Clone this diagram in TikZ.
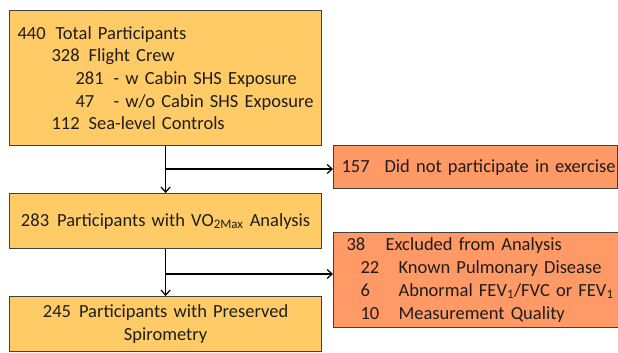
\documentclass[tikz,border=0pt]{standalone}
\usepackage{fontspec}
\setmainfont{Carlito}
\usetikzlibrary{arrows.meta}
\definecolor{yfill}{HTML}{FFCB66}
\definecolor{ofill}{HTML}{FF9966}
\definecolor{bordc}{HTML}{404040}
\definecolor{txtc}{HTML}{1E1E1E}
\newcommand{\boxfont}{\fontsize{18.5pt}{22.7pt}\selectfont}
\newcommand{\nm}[2]{\makebox[#1][l]{#2}}
\begin{document}
\begin{tikzpicture}[x=1pt,y=-1pt,
  boxbase/.style={draw=bordc, line width=1.2pt, inner ysep=0pt, anchor=north west,
    font=\boxfont, text=txtc},
  ybox/.style={boxbase, fill=yfill},
  obox/.style={boxbase, fill=ofill},
  arr/.style={draw=black, line width=1.2pt, -{Straight Barb[length=5pt,width=9pt]}}]
\useasboundingbox (0,0) rectangle (618,353);
\node[ybox, minimum width=312pt, minimum height=135pt, text width=296pt, inner xsep=8pt, align=left] (b1) at (9,10)
 {\nm{38pt}{440}Total Participants\\
  \hspace*{34pt}\nm{37pt}{328}Flight Crew\\
  \hspace*{58pt}\nm{38pt}{281}- w Cabin SHS Exposure\\
  \hspace*{58pt}\nm{38pt}{47}- w/o Cabin SHS Exposure\\
  \hspace*{34pt}\nm{37pt}{112}Sea-level Controls};
\node[ybox, minimum width=312pt, minimum height=55pt, text width=296pt, inner xsep=8pt, align=center] (b2) at (9,193)
 {283\hspace{8pt}Participants with VO\textsubscript{2Max} Analysis};
\node[ybox, minimum width=312pt, minimum height=55pt, text width=296pt, inner xsep=8pt, align=center] (b3) at (9,296)
 {245\hspace{8pt}Participants with Preserved\\Spirometry};
\node[obox, minimum width=284pt, minimum height=43pt, text width=274pt, inner xsep=5pt, align=left] (o1) at (333,145)
 {\hspace*{3pt}\mbox{\nm{43pt}{157}Did not participate in exercise}};
\node[obox, minimum width=284pt, minimum height=95pt, text width=270pt, inner xsep=13pt, align=left] (o2) at (333,232)
 {\nm{39pt}{38}Excluded from Analysis\\
  \hspace*{14pt}\nm{38pt}{22}Known Pulmonary Disease\\
  \hspace*{14pt}\nm{38pt}{6}\mbox{Abnormal FEV\textsubscript{1}/FVC or FEV\textsubscript{1}}\\
  \hspace*{14pt}\nm{38pt}{10}Measurement Quality};
\coordinate (j1) at (165,169);
\coordinate (j2) at (165,274);
\draw[arr] (b1.south) -- (b2.north);
\draw[arr] (j1) -- (j1 -| o1.west);
\draw[arr] (b2.south) -- (b3.north);
\draw[arr] (j2) -- (j2 -| o2.west);
\end{tikzpicture}
\end{document}
